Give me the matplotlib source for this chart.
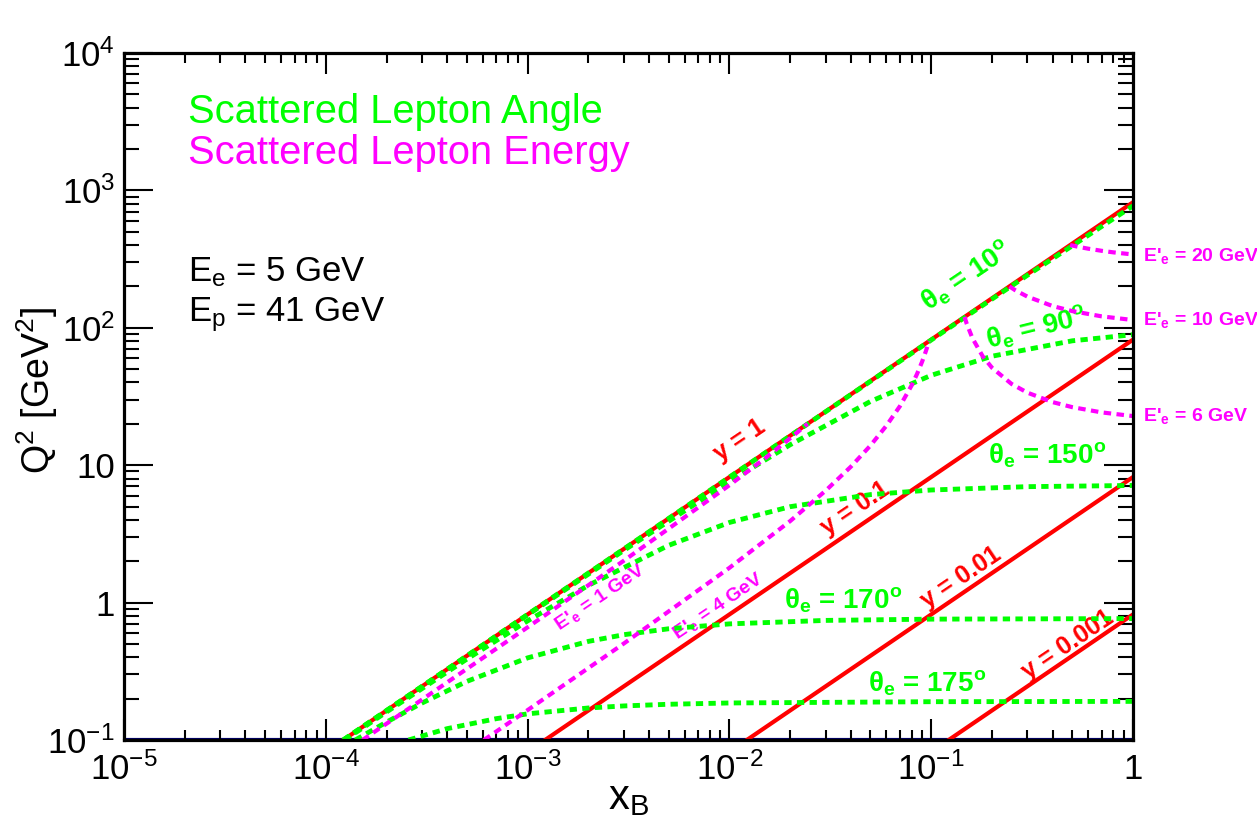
import matplotlib
matplotlib.use("Agg")
import matplotlib.pyplot as plt
from matplotlib.ticker import FixedLocator, FixedFormatter, LogLocator, NullFormatter

plt.rcParams['font.family'] = ['Liberation Sans', 'DejaVu Sans']
plt.rcParams['mathtext.fontset'] = 'custom'
plt.rcParams['mathtext.rm'] = 'Liberation Sans'
plt.rcParams['mathtext.it'] = 'Liberation Sans'
plt.rcParams['mathtext.bf'] = 'Liberation Sans:bold'
plt.rcParams['mathtext.default'] = 'regular'

# constant y lines (Q2 = s x y), values read at the plot edges
y_labels = ['y = 1', 'y = 0.1', 'y = 0.01', 'y = 0.001']
y_x_start = [1.22e-4, 1.22e-3, 1.22e-2, 0.122]
y_x_end = [1, 1, 1, 1]
y_q2_start = [0.1, 0.1, 0.1, 0.1]
y_q2_end = [820, 82, 8.2, 0.82]

# scattered lepton angle curves
theta10_x = [1.22e-4, 1e-3, 1e-2, 0.1, 0.3, 1]
theta10_q2 = [0.1, 0.82, 8.19, 81.5, 241.5, 771.6]
theta90_x = [1.22e-4, 1e-3, 3e-3, 1e-2, 2e-2, 5e-2, 0.1, 0.2, 0.5, 1]
theta90_q2 = [0.1, 0.813, 2.40, 7.58, 14.09, 29.1, 45.1, 62.1, 80.4, 89.1]
theta150_x = [1.24e-4, 2e-4, 5e-4, 1e-3, 2e-3, 5e-3, 1e-2, 2e-2, 5e-2, 0.1, 0.3, 1]
theta150_q2 = [0.1, 0.160, 0.388, 0.736, 1.335, 2.61, 3.83, 4.99, 6.11, 6.60, 6.98, 7.12]
theta170_x = [1.40e-4, 2e-4, 3e-4, 5e-4, 1e-3, 2e-3, 3e-3, 5e-3, 1e-2, 3e-2, 0.1, 1]
theta170_q2 = [0.1, 0.135, 0.186, 0.267, 0.396, 0.522, 0.584, 0.645, 0.700, 0.742, 0.758, 0.765]
theta175_x = [2.57e-4, 4e-4, 7e-4, 1e-3, 2e-3, 3e-3, 5e-3, 1e-2, 0.1, 1]
theta175_q2 = [0.1, 0.121, 0.143, 0.155, 0.171, 0.177, 0.182, 0.186, 0.190, 0.191]

# scattered lepton energy curves
e1_x = [1.52e-4, 3e-4, 1e-3, 3e-3, 1e-2, 1.5e-2, 2e-2, 2.44e-2]
e1_q2 = [0.1, 0.197, 0.661, 2.02, 7.15, 11.2, 15.7, 20.0]
e4_x = [6.07e-4, 1e-3, 3e-3, 1e-2, 2e-2, 3e-2, 4e-2, 5e-2, 6e-2, 7e-2, 8e-2, 8.5e-2, 9e-2, 9.4e-2, 9.76e-2]
e4_q2 = [0.1, 0.165, 0.504, 1.79, 3.92, 6.53, 9.76, 13.9, 19.4, 26.9, 38.1, 46.0, 56.3, 67.3, 80.0]
e6_x = [0.1463, 0.15, 0.16, 0.18, 0.2, 0.25, 0.3, 0.4, 0.5, 0.7, 1]
e6_q2 = [120, 107.0, 84.1, 62.0, 51.25, 39.05, 33.7, 28.77, 26.45, 24.22, 22.78]
e10_x = [0.244, 0.26, 0.3, 0.4, 0.5, 0.7, 1]
e10_q2 = [200, 188.3, 168.5, 143.9, 132.3, 121.1, 113.9]
e20_x = [0.488, 0.55, 0.6, 0.7, 0.8, 1]
e20_q2 = [400, 385.5, 376.5, 363.3, 354.0, 341.7]

x_ticks = [1e-5, 1e-4, 1e-3, 1e-2, 1e-1, 1]
x_ticklabels = [r'$10^{-5}$', r'$10^{-4}$', r'$10^{-3}$', r'$10^{-2}$', r'$10^{-1}$', '1']
y_ticks = [1e-1, 1, 10, 1e2, 1e3, 1e4]
y_ticklabels = [r'$10^{-1}$', '1', '10', r'$10^{2}$', r'$10^{3}$', r'$10^{4}$']

RED = '#ff0000'
GREEN = '#00ff00'
MAGENTA = '#ff00ff'

fig = plt.figure(figsize=(12.57, 8.22), dpi=100)
ax = fig.add_axes([124 / 1257, 1 - 740 / 822, 1009 / 1257, 687 / 822])
ax.set_xscale('log')
ax.set_yscale('log')
ax.set_xlim(1e-5, 1)
ax.set_ylim(0.1, 1e4)

# y lines
for i in range(len(y_labels)):
    ax.plot([y_x_start[i], y_x_end[i]], [y_q2_start[i], y_q2_end[i]], color=RED, lw=3.0, zorder=3)

# angle curves
green_style = dict(color=GREEN, lw=3.5, linestyle=(0, (1.5, 1.1)), zorder=4)
for xs, qs in [(theta10_x, theta10_q2), (theta90_x, theta90_q2), (theta150_x, theta150_q2),
               (theta170_x, theta170_q2), (theta175_x, theta175_q2)]:
    ax.plot(xs, qs, **green_style)

# energy curves
mag_style = dict(color=MAGENTA, lw=3.0, linestyle=(0, (1.8, 1.3)), zorder=5)
for xs, qs in [(e1_x, e1_q2), (e4_x, e4_q2), (e6_x, e6_q2), (e10_x, e10_q2), (e20_x, e20_q2)]:
    ax.plot(xs, qs, **mag_style)

ax.axhline(0.1, color='#000066', lw=3, zorder=1)

# labels on the lines
red_pos = [(0.0113, 15.2), (0.0419, 4.88), (0.1406, 1.51), (0.476, 0.491)]
for lab, (px, py) in zip(y_labels, red_pos):
    ax.text(px, py, lab, color=RED, fontsize=18, fontweight='bold', rotation=34,
            ha='center', va='center', rotation_mode='anchor')

ax.text(0.150, 240, r'$\theta_{e}$ = 10$^{o}$', color=GREEN, fontsize=20, fontweight='bold',
        rotation=34, ha='center', va='center', rotation_mode='anchor')
ax.text(0.330, 99.7, r'$\theta_{e}$ = 90$^{o}$', color=GREEN, fontsize=20, fontweight='bold',
        rotation=14, ha='center', va='center', rotation_mode='anchor')
ax.text(0.375, 11.9, r'$\theta_{e}$ = 150$^{o}$', color=GREEN, fontsize=20, fontweight='bold',
        ha='center', va='center')
ax.text(0.0366, 1.045, r'$\theta_{e}$ = 170$^{o}$', color=GREEN, fontsize=20, fontweight='bold',
        ha='center', va='center')
ax.text(0.0953, 0.260, r'$\theta_{e}$ = 175$^{o}$', color=GREEN, fontsize=20, fontweight='bold',
        ha='center', va='center')

ax.text(2.29e-3, 1.10, r"E'$_{e}$ = 1 GeV", color=MAGENTA, fontsize=14, fontweight='bold',
        rotation=34, ha='center', va='center', rotation_mode='anchor')
ax.text(8.77e-3, 0.944, r"E'$_{e}$ = 4 GeV", color=MAGENTA, fontsize=14, fontweight='bold',
        rotation=34, ha='center', va='center', rotation_mode='anchor')
for lab, yfrac in [("E'$_{e}$ = 20 GeV", 0.7045), ("E'$_{e}$ = 10 GeV", 0.611), ("E'$_{e}$ = 6 GeV", 0.4716)]:
    ax.text(1.0099, yfrac, lab, color=MAGENTA, fontsize=14, fontweight='bold',
            ha='left', va='center', transform=ax.transAxes, clip_on=False)

# legend-like text
ax.text(0.0634, 0.914, 'Scattered Lepton Angle', color=GREEN, fontsize=28.7,
        ha='left', va='center', transform=ax.transAxes)
ax.text(0.0634, 0.854, 'Scattered Lepton Energy', color=MAGENTA, fontsize=28.7,
        ha='left', va='center', transform=ax.transAxes)
ax.text(0.0634, 0.681, r'E$_{e}$ = 5 GeV', color='black', fontsize=25,
        ha='left', va='center', transform=ax.transAxes)
ax.text(0.0634, 0.619, r'E$_{p}$ = 41 GeV', color='black', fontsize=25,
        ha='left', va='center', transform=ax.transAxes)

# axes styling
ax.xaxis.set_major_locator(FixedLocator(x_ticks))
ax.xaxis.set_major_formatter(FixedFormatter(x_ticklabels))
ax.yaxis.set_major_locator(FixedLocator(y_ticks))
ax.yaxis.set_major_formatter(FixedFormatter(y_ticklabels))
ax.xaxis.set_minor_locator(LogLocator(base=10, subs=range(2, 10), numticks=20))
ax.yaxis.set_minor_locator(LogLocator(base=10, subs=range(2, 10), numticks=20))
ax.xaxis.set_minor_formatter(NullFormatter())
ax.yaxis.set_minor_formatter(NullFormatter())

ax.tick_params(which='both', direction='in', top=True, right=True, width=1.5, colors='black')
ax.tick_params(axis='x', which='major', length=15, pad=9, labelsize=25)
ax.tick_params(axis='x', which='minor', length=7.5)
ax.tick_params(axis='y', which='major', length=21, pad=6.5, labelsize=25)
ax.tick_params(axis='y', which='minor', length=10.5)
for sp in ax.spines.values():
    sp.set_linewidth(2.3)
    sp.set_zorder(6)

ax.set_xlabel(r'x$_{B}$', fontsize=30, va='top')
ax.xaxis.set_label_coords(0.5, -0.055)
ax.set_ylabel(r'Q$^{2}$ [GeV$^{2}$]', fontsize=27)
ax.yaxis.set_label_coords(-0.063, 0.509)

fig.savefig('out.png', dpi=100, facecolor='white')
